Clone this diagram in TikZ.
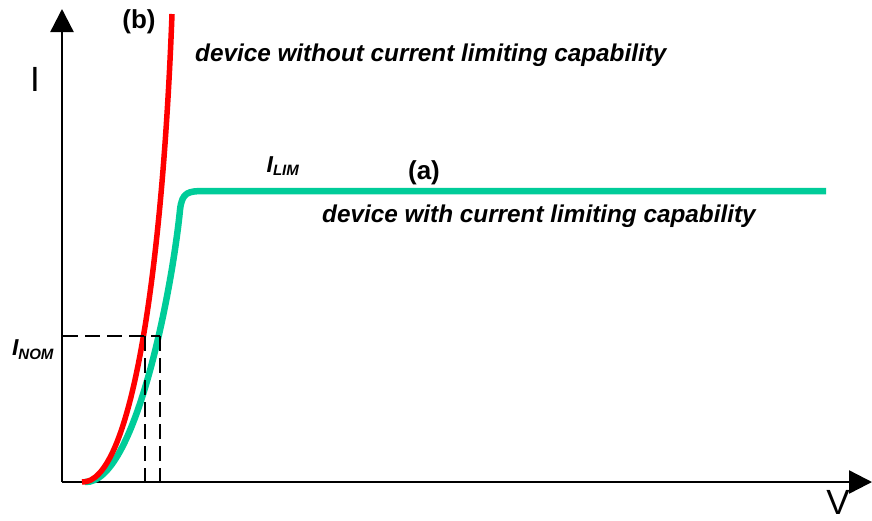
\documentclass[tikz,border=0pt]{standalone}
\usepackage{fontspec}
\setmainfont{Liberation Sans}
\usetikzlibrary{arrows.meta}
\definecolor{cred}{RGB}{255,0,0}
\definecolor{cgreen}{RGB}{0,204,153}
\begin{document}
\begin{tikzpicture}[x=1pt,y=-1pt,
  axis/.style={line width=2.4pt,-{Triangle[length=23pt,width=23pt]}},
  dashline/.style={line width=2pt,dash pattern=on 15pt off 7pt},
  lbl/.style={font=\bfseries\itshape\fontsize{24.3}{28}\selectfont,inner sep=0pt},
  tag/.style={font=\bfseries\fontsize{26}{30}\selectfont,inner sep=0pt},
  big/.style={font=\fontsize{35}{40}\selectfont,inner sep=0pt},
  sub/.style={font=\bfseries\itshape\fontsize{23}{26}\selectfont,inner sep=0pt}]
\useasboundingbox (0,0) rectangle (872,520);
\coordinate (O) at (62,482);
\coordinate (ytip) at (62,9);
\coordinate (xtip) at (872,482);
\draw[axis] (O) -- (ytip);
\draw[axis] (O) -- (xtip);
% green curve (a)
\coordinate (gs) at (85,482);
\coordinate (gk) at (180,210);
\coordinate (gf) at (205,191);
\coordinate (ge) at (826,191);
\draw[cgreen,line width=6.5pt] (gs) .. controls (135,484) and (172,290) .. (gk)
  .. controls (182,192) and (188,191) .. (gf) -- (ge);
% red curve (b)
\coordinate (rs) at (82,482);
\coordinate (re) at (172,14);
\draw[cred,line width=5.5pt] (rs) .. controls (130,484) and (162,280) .. (re);
% dashed guides
\coordinate (nomL) at (63,336);
\coordinate (nomR) at (160,336);
\coordinate (nomA) at (145,336);
\coordinate (baseA) at (145,482);
\coordinate (baseB) at (160,482);
\draw[dashline] (nomL) -- (nomR);
\draw[dashline] (nomA) -- (baseA);
\draw[dashline] (nomR) -- (baseB);
% labels
\node[big] (Ilab) at (35,79) {I};
\node[big] (Vlab) at (838,502) {V};
\node[tag] (b) at (139,22) {(b)};
\node[tag] (a) at (424,173) {(a)};
\node[lbl,anchor=west] (wo) at (195,55) {device without current limiting capability};
\node[lbl,anchor=west] (w) at (322,216) {device with current limiting capability};
\node[sub] (ilim) at (283,166) {I\textsubscript{\fontsize{15}{17}\selectfont LIM}};
\node[sub] (inom) at (33,350) {I\textsubscript{\fontsize{15}{17}\selectfont NOM}};
\end{tikzpicture}
\end{document}
